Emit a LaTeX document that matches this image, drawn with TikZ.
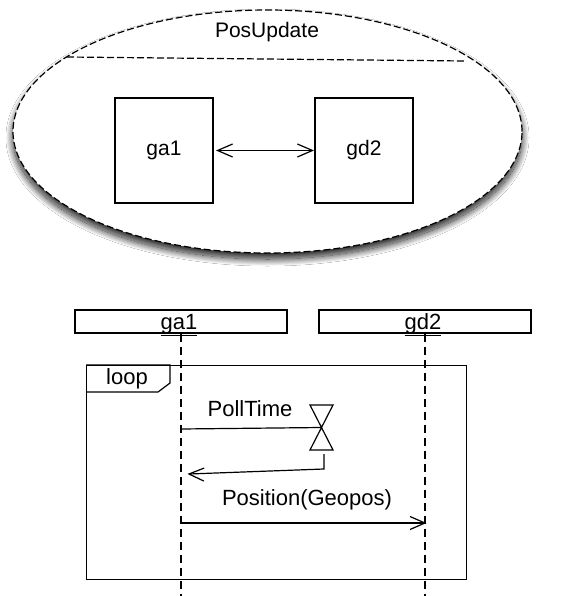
\documentclass[tikz,border=0pt]{standalone}
\usepackage{fontspec}
\setmainfont{Liberation Sans}
\usetikzlibrary{shapes.geometric,shadows.blur}
\begin{document}
\begin{tikzpicture}[x=1pt,y=-1pt,line width=1.2pt,
  vhead/.pic={\draw[line join=miter] (-15,-6.5) -- (0,0) -- (-15,6.5);},
  comp/.style={draw,minimum width=98pt,minimum height=105pt,inner sep=0pt,font=\fontsize{21}{25}\selectfont},
  hdr/.style={draw,minimum width=212pt,minimum height=23pt,inner sep=0pt},
  lbl/.style={inner sep=0pt,font=\fontsize{22}{26}\selectfont},
  lifeline/.style={dash pattern=on 8pt off 5pt}]
\useasboundingbox (0,0) rectangle (576,596);
\fill[white] (0,0) rectangle (576,596);

% collaboration ellipse with its name compartment
\node[ellipse,draw,dash pattern=on 7pt off 3pt,fill=white,
      minimum width=509pt,minimum height=243pt,
      blur shadow={shadow xshift=0pt,shadow yshift=-6pt,shadow scale=1.0,
                   shadow blur radius=7pt,shadow blur steps=30,shadow opacity=90}]
      (collab) at (267.5,131.5) {};
\coordinate (sepL) at (67,57);
\coordinate (sepR) at (465,61);
\draw[dash pattern=on 7pt off 3pt] (sepL) -- (sepR);
\node[inner sep=0pt,font=\fontsize{21}{25}\selectfont] (title) at (267,32) {PosUpdate};

% roles, linked both ways
\node[comp] (ga) at (164,150.5) {ga1};
\node[comp] (gd) at (364,150.5) {gd2};
\path (ga.east) ++(4,0) coordinate (gaR);
\path (gd.west) ++(-2,0) coordinate (gdL);
\draw (gaR) -- (gdL);
\pic at (gdL) {vhead};
\pic[rotate=180] at (gaR) {vhead};

% sequence diagram: lifeline heads
\node[hdr] (ha) at (181,321.5) {};
\node[hdr] (hd) at (425,321.5) {};
\node[lbl,anchor=base] (hat) at (179,329) {\underline{ga1}};
\node[lbl,anchor=base] (hdt) at (423,329) {\underline{gd2}};
\coordinate (endA) at (181,596);
\coordinate (endD) at (425,596);
\draw[lifeline] (ha.south) -- (endA);
\draw[lifeline] (hd.south) -- (endD);

% loop fragment
\node[draw,anchor=north west,minimum width=380pt,minimum height=214pt,inner sep=0pt] (frame) at (86,365) {};
\draw (frame.north west) -- ++(84,0) -- ++(0,18) -- ++(-12,9) -- ++(-72,0);
\node[lbl] (looplbl) at (127,379) {loop};

% time event (hourglass)
\coordinate (hg) at (321.5,427.5);
\draw (310,405) -- (333,405) -- (310,450) -- (333,450) -- cycle;
\node[lbl] (poll) at (250,409) {PollTime};
\draw (ha.south |- 0,429) -- (hg);
\coordinate (rt1) at (324,454);
\coordinate (rt2) at (324,469);
\coordinate (rt3) at (189,474);
\draw (rt1) -- (rt2) -- (rt3);
\pic[rotate=178] at (rt3) {vhead};

% position message
\node[lbl] (posmsg) at (307,500) {Position(Geopos)};
\coordinate (pmA) at (ha.south |- 0,523);
\coordinate (pmD) at (hd.south |- 0,523);
\draw (pmA) -- (pmD);
\pic at (pmD) {vhead};
\end{tikzpicture}
\end{document}
